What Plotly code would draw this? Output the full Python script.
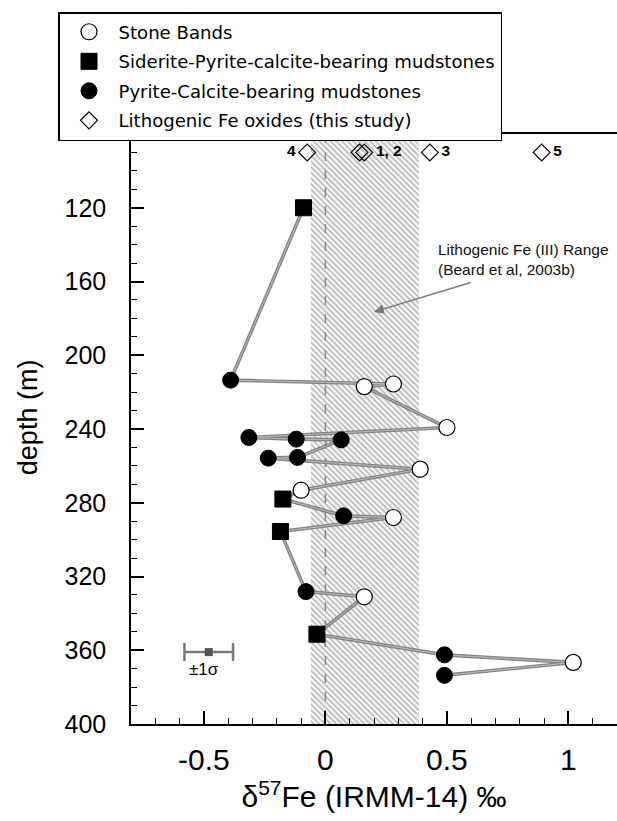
import plotly.graph_objects as go

# ---------------- data ----------------
# Stone Bands (open circles)
sb_delta = [0.28, 0.16, 0.50, 0.39, -0.10, 0.28, 0.16, 1.02]
sb_depth = [215.6, 217.0, 239.2, 261.8, 273.2, 288.0, 331.0, 366.6]

# Siderite-Pyrite-calcite-bearing mudstones (filled squares)
sq_delta = [-0.09, -0.175, -0.185, -0.035]
sq_depth = [120.0, 278.0, 295.6, 351.3]

# Pyrite-Calcite-bearing mudstones (filled circles)
pc_delta = [-0.39, -0.315, -0.12, 0.065, -0.115, -0.235, 0.075, -0.08, 0.49, 0.49]
pc_depth = [213.5, 244.6, 245.5, 245.9, 255.4, 255.8, 287.1, 328.2, 362.5, 373.6]

# Lithogenic Fe oxides (this study), plotted in a row along the top
lith_delta = [0.14, 0.16, 0.43, -0.075, 0.89]
lith_labels = ["", "1, 2", "3", "4", "5"]
lith_textpos = ["middle right", "middle right", "middle right", "middle left", "middle right"]
lith_depth = 90

# Lithogenic Fe(III) range (Beard et al, 2003b)
band_range = [-0.06, 0.385]
band_note = ["Lithogenic Fe (III) Range", "(Beard et al, 2003b)"]

# typical analytical uncertainty (±1σ)
err_delta = -0.48
err_sigma = 0.1
err_depth = 361

# axes
x_range = [-0.8, 1.2]
y_range = [400, 80]
x_tickvals = [-0.5, 0, 0.5, 1]
x_ticktext = ["-0.5", "0", "0.5", "1"]
y_tickvals = [120, 160, 200, 240, 280, 320, 360, 400]

FONT = "Liberation Sans, Arial, Helvetica, sans-serif"
LEGFONT = "DejaVu Sans, Verdana, sans-serif"

# connecting line: all samples in depth order
all_pts = sorted(
    list(zip(sb_depth, sb_delta)) + list(zip(sq_depth, sq_delta)) + list(zip(pc_depth, pc_delta))
)
line_depth = [p[0] for p in all_pts]
line_delta = [p[1] for p in all_pts]

fig = go.Figure()

# hatched lithogenic band
fig.add_trace(go.Scatter(
    x=[band_range[0], band_range[1], band_range[1], band_range[0], band_range[0]],
    y=[y_range[1], y_range[1], y_range[0], y_range[0], y_range[1]],
    mode="lines", fill="toself", line=dict(width=0, color="rgba(0,0,0,0)"),
    fillcolor="rgba(0,0,0,0)",
    fillpattern=dict(shape="\\", fgcolor="#7a7a7a", bgcolor="#f7f7f7", size=4, solidity=0.4),
    showlegend=False, hoverinfo="skip"))

# dashed zero line
fig.add_trace(go.Scatter(
    x=[0, 0], y=[y_range[1], y_range[0]], mode="lines",
    line=dict(color="#8a8a8a", width=1.5, dash="dash"),
    showlegend=False, hoverinfo="skip"))

# connecting gray line (double-edged look)
fig.add_trace(go.Scatter(x=line_delta, y=line_depth, mode="lines",
                         line=dict(color="#858585", width=3.6),
                         showlegend=False, hoverinfo="skip"))
fig.add_trace(go.Scatter(x=line_delta, y=line_depth, mode="lines",
                         line=dict(color="#b9b9b9", width=1.0),
                         showlegend=False, hoverinfo="skip"))

# sample markers
fig.add_trace(go.Scatter(
    x=sb_delta, y=sb_depth, mode="markers", name="Stone Bands", legendgroup="a",
    marker=dict(symbol="circle", size=16, color="white", line=dict(color="black", width=1.2))))
fig.add_trace(go.Scatter(
    x=sq_delta, y=sq_depth, mode="markers", name="Siderite-Pyrite-calcite-bearing mudstones",
    legendgroup="b",
    marker=dict(symbol="square", size=16, color="black", line=dict(color="black", width=1))))
fig.add_trace(go.Scatter(
    x=pc_delta, y=pc_depth, mode="markers", name="Pyrite-Calcite-bearing mudstones",
    legendgroup="c",
    marker=dict(symbol="circle", size=16, color="black", line=dict(color="black", width=1))))
fig.add_trace(go.Scatter(
    x=lith_delta, y=[lith_depth] * len(lith_delta), mode="markers",
    name="Lithogenic Fe oxides (this study)", legendgroup="d",
    marker=dict(symbol="diamond-open", size=13, color="black", line=dict(color="black", width=1.2))))
# labels of the lithogenic samples
fig.add_trace(go.Scatter(
    x=lith_delta, y=[lith_depth] * len(lith_delta), mode="markers+text",
    text=lith_labels, textposition=lith_textpos,
    textfont=dict(family=FONT, size=15.5, color="black", weight="bold"),
    marker=dict(size=17, opacity=0), showlegend=False, hoverinfo="skip"))

# ±1σ error bar
fig.add_trace(go.Scatter(
    x=[err_delta], y=[err_depth], mode="markers",
    marker=dict(symbol="square", size=8, color="#555555"),
    error_x=dict(type="constant", value=err_sigma, color="#7a7a7a", thickness=2.5, width=9),
    showlegend=False, hoverinfo="skip"))

fig.add_annotation(x=err_delta - 0.02, y=err_depth + 9.5, text="±1σ", showarrow=False,
                   font=dict(family=FONT, size=17, color="black"))

# band annotation with arrow
fig.add_annotation(x=0.2, y=176.5, ax=0.604, ay=160.3, axref="x", ayref="y",
                   text="", showarrow=True, arrowhead=2, arrowsize=1.4, arrowwidth=1.4,
                   arrowcolor="#7a7a7a")
fig.add_annotation(x=0.455, y=147.8, text="<br>".join(band_note),
                   showarrow=False, xanchor="left", yanchor="middle", align="left",
                   font=dict(family=FONT, size=15.5, color="#111111"))

# y-axis title (placed as a rotated annotation)
fig.add_annotation(xref="paper", yref="paper", x=-0.212, y=0.52, text="depth (m)",
                   xanchor="center", yanchor="middle",
                   textangle=-90, showarrow=False,
                   font=dict(family=FONT, size=27, color="black"))

axis_common = dict(showline=True, linecolor="black", linewidth=1.5, showgrid=False,
                   zeroline=False, ticks="inside", ticklen=13, tickwidth=1.5,
                   tickcolor="black")

fig.update_layout(
    width=617, height=821,
    margin=dict(l=131, r=0, t=134, b=97, autoexpand=False),
    paper_bgcolor="white", plot_bgcolor="white",
    font=dict(family=FONT, color="black"),
    xaxis=dict(range=x_range, tickvals=x_tickvals, ticktext=x_ticktext,
               tickfont=dict(size=30), mirror=True, ticklabelstandoff=8,
               minor=dict(dtick=0.1, tick0=0, ticks="inside", ticklen=6, tickwidth=1.3,
                          tickcolor="black", showgrid=False),
               title=dict(text="δ<sup>57</sup>Fe (IRMM-14) ‰", font=dict(size=30), standoff=11),
               **axis_common),
    yaxis=dict(range=y_range, autorange=False, tickvals=y_tickvals,
               tickfont=dict(size=25), ticklabelstandoff=18,
               minor=dict(dtick=10, tick0=0, ticks="inside", ticklen=6, tickwidth=1.3,
                          tickcolor="black", showgrid=False),
               **axis_common),
    legend=dict(xref="container", yref="container", x=58 / 617, y=1 - 12 / 821,
                xanchor="left", yanchor="top", bgcolor="white", bordercolor="black",
                borderwidth=1.5, font=dict(family=LEGFONT, size=18.1, color="black"),
                itemwidth=49, tracegroupgap=3),
    showlegend=True,
)

fig.write_html("out.html")
